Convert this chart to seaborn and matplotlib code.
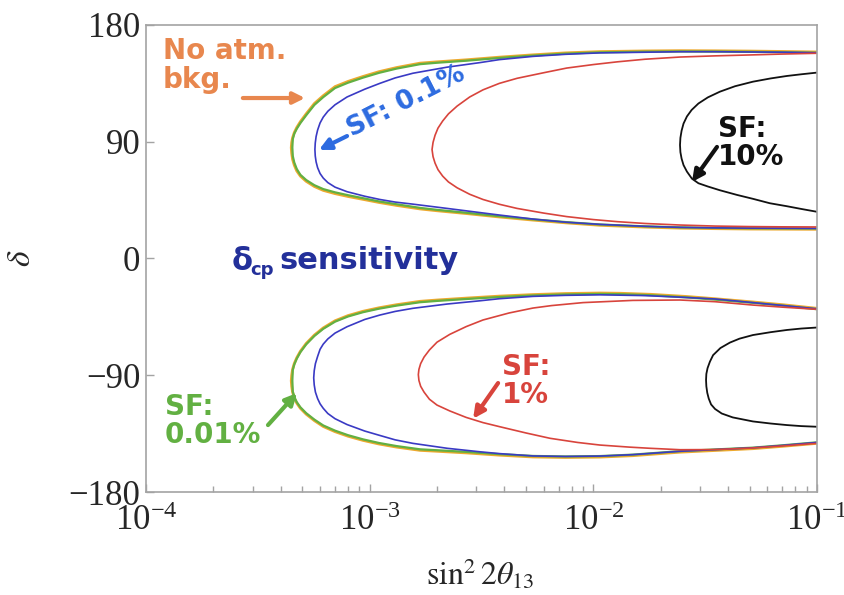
import matplotlib
matplotlib.use("Agg")
import matplotlib.pyplot as plt
from matplotlib.ticker import LogLocator, NullFormatter
import seaborn as sns

# ---- contour data: sin^2(2 theta13) vs delta (degrees) ----
# Each contour is traced from the right edge along its upper branch,
# round the tip, and back to the right edge along its lower branch.

# ===== upper band (delta > 0) =====
nobkg_up_x = [0.1, 0.07, 0.05, 0.035, 0.0244, 0.017, 0.0107, 0.0075, 0.00537, 0.0038,
              0.00272, 0.002, 0.00168, 0.00132, 0.0011, 0.000933, 0.0008, 0.0007, 0.00062,
              0.000566, 0.00052, 0.00049, 0.000472, 0.00046, 0.000452, 0.000448, 0.000446,
              0.000448, 0.000452, 0.00046, 0.000472, 0.00049, 0.00052, 0.000566, 0.00062,
              0.0007, 0.0008, 0.000933, 0.0011, 0.00132, 0.00168, 0.002, 0.00272, 0.0038,
              0.00537, 0.0075, 0.0107, 0.017, 0.0244, 0.035, 0.05, 0.1]
nobkg_up_d = [159.2, 159.6, 159.9, 160.1, 160.2, 160.0, 159.5, 158.5, 157.0, 155.2,
              153.2, 151.6, 150.6, 147.2, 144.0, 140.3, 136.5, 132.5, 125.5,
              119.5, 111.5, 105.5, 101.0, 97.0, 93.0, 89.5, 85.5,
              81.0, 76.5, 72.0, 67.5, 63.5, 59.5, 55.5, 52.5,
              50.0, 47.8, 45.6, 43.2, 40.9, 38.2, 36.8, 34.6, 32.0,
              29.6, 27.5, 25.6, 24.2, 23.4, 23.0, 22.7, 22.5]

sf001_up_x = [0.1, 0.07, 0.05, 0.035, 0.0244, 0.017, 0.0107, 0.0075, 0.00537, 0.0038,
              0.00272, 0.002, 0.00168, 0.00132, 0.0011, 0.000933, 0.0008, 0.0007, 0.00062,
              0.000566, 0.00052, 0.00049, 0.000472, 0.00046, 0.000453, 0.000451,
              0.000453, 0.00046, 0.000472, 0.00049, 0.00052, 0.000566, 0.00062,
              0.0007, 0.0008, 0.000933, 0.0011, 0.00132, 0.00168, 0.002, 0.00272, 0.0038,
              0.00537, 0.0075, 0.0107, 0.017, 0.0244, 0.035, 0.05, 0.1]
sf001_up_d = [158.6, 159.0, 159.3, 159.5, 159.6, 159.4, 158.9, 157.9, 156.4, 154.6,
              152.5, 150.9, 149.8, 146.4, 143.1, 139.4, 135.5, 131.4, 124.4,
              118.4, 110.4, 104.4, 100.0, 96.2, 92.0, 85.5,
              79.0, 74.0, 69.0, 64.5, 60.5, 56.5, 53.5,
              51.0, 48.8, 46.5, 44.0, 41.8, 39.0, 37.5, 35.2, 32.6,
              30.2, 28.1, 26.2, 24.8, 24.0, 23.6, 23.3, 23.1]

sf01_up_x = [0.1, 0.07, 0.05, 0.035, 0.0244, 0.017, 0.0107, 0.0075, 0.00537, 0.0038,
             0.00311, 0.00222, 0.00156, 0.0013, 0.00111, 0.00095, 0.000792, 0.0007, 0.00065,
             0.00062, 0.0006, 0.000585, 0.000576, 0.000571, 0.000569,
             0.000571, 0.000576, 0.000585, 0.0006, 0.00062, 0.00065, 0.0007, 0.000792,
             0.00095, 0.00111, 0.0013, 0.00156, 0.00222, 0.00311, 0.0038, 0.00537, 0.0075,
             0.0107, 0.017, 0.0244, 0.035, 0.05, 0.1]
sf01_up_d = [158.6, 159.0, 159.2, 159.4, 159.4, 159.0, 158.5, 157.4, 155.8, 153.3,
             151.0, 147.5, 142.8, 139.2, 135.0, 130.5, 124.5, 118.5, 113.5,
             109.0, 104.5, 99.0, 94.0, 89.0, 84.0,
             79.0, 74.5, 70.0, 65.5, 62.0, 58.5, 55.0, 51.5,
             48.0, 45.5, 43.5, 41.9, 38.6, 35.4, 33.5, 30.4, 28.0,
             26.3, 24.8, 24.0, 23.6, 23.4, 23.2]

sf1_up_x = [0.1, 0.07, 0.05, 0.035, 0.0244, 0.017, 0.0128, 0.01, 0.0076, 0.006,
            0.00456, 0.0038, 0.00321, 0.0028, 0.00246, 0.00225, 0.00212, 0.00202, 0.00196,
            0.00192, 0.0019, 0.00192, 0.00196, 0.00202, 0.00212, 0.00225, 0.00246, 0.0028,
            0.00321, 0.0038, 0.00456, 0.006, 0.0076, 0.01, 0.0128, 0.017, 0.0244, 0.035,
            0.05, 0.07, 0.1]
sf1_up_d = [158.2, 157.6, 156.9, 156.2, 155.3, 153.6, 151.6, 149.5, 146.8, 143.2,
            138.9, 135.0, 130.0, 124.5, 117.5, 111.5, 106.0, 100.5, 95.0,
            89.5, 84.0, 78.5, 73.5, 68.5, 63.5, 59.0, 54.5, 49.5,
            45.5, 41.8, 38.6, 35.0, 32.3, 30.0, 28.4, 27.0, 25.8, 25.0,
            24.6, 24.4, 24.3]

sf10_up_x = [0.1, 0.085, 0.0733, 0.062, 0.0517, 0.043, 0.0368, 0.0325, 0.0295, 0.0275,
             0.0262, 0.0253, 0.0248, 0.0245, 0.0244, 0.0245, 0.0248, 0.0253, 0.0262,
             0.0276, 0.0295, 0.0325, 0.0368, 0.0439, 0.0517, 0.0615, 0.0733, 0.085, 0.1]
sf10_up_d = [143.3, 142.0, 140.7, 138.8, 136.3, 132.8, 128.6, 124.2, 119.5, 114.5,
             109.5, 104.0, 98.5, 93.0, 87.5, 82.0, 77.0, 72.0, 67.0,
             61.5, 58.0, 55.5, 52.6, 49.0, 46.0, 42.6, 40.3, 38.2, 36.0]

# ===== lower band (delta < 0) =====
nobkg_lo_x = [0.1, 0.07, 0.0517, 0.035, 0.0262, 0.018, 0.0132, 0.0107, 0.0075, 0.00537,
              0.0038, 0.00272, 0.002, 0.00168, 0.00132, 0.0011, 0.000933, 0.0008, 0.0007,
              0.00062, 0.000566, 0.00052, 0.00049, 0.000472, 0.00046, 0.000452, 0.000448,
              0.000446, 0.000448, 0.000452, 0.00046, 0.000472, 0.00049, 0.00052, 0.000566,
              0.00062, 0.0007, 0.0008, 0.000933, 0.0011, 0.00132, 0.00168, 0.002, 0.00272,
              0.0038, 0.00537, 0.0075, 0.0107, 0.015, 0.0244, 0.035, 0.0517, 0.07, 0.1]
nobkg_lo_d = [-38.4, -35.6, -33.5, -31.0, -29.3, -27.6, -26.8, -26.6, -27.0, -27.8,
              -29.0, -30.5, -32.0, -33.0, -35.6, -38.0, -40.7, -44.0, -48.0,
              -53.5, -59.0, -65.5, -71.5, -76.5, -81.0, -85.5, -90.0,
              -94.2, -98.5, -103.0, -107.5, -111.5, -115.5, -120.0, -125.0,
              -129.5, -133.5, -137.0, -140.2, -143.0, -145.4, -147.9, -148.6, -149.9,
              -151.6, -153.0, -153.4, -153.1, -152.0, -149.3, -148.0, -146.6, -144.8, -142.5]

sf001_lo_x = [0.1, 0.07, 0.0517, 0.035, 0.0262, 0.018, 0.0132, 0.0107, 0.0075, 0.00537,
              0.0038, 0.00272, 0.002, 0.00168, 0.00132, 0.0011, 0.000933, 0.0008, 0.0007,
              0.00062, 0.000566, 0.00052, 0.00049, 0.000472, 0.00046, 0.000453,
              0.000451, 0.000453, 0.00046, 0.000472, 0.00049, 0.00052, 0.000566,
              0.00062, 0.0007, 0.0008, 0.000933, 0.0011, 0.00132, 0.00168, 0.002, 0.00272,
              0.0038, 0.00537, 0.0075, 0.0107, 0.015, 0.0244, 0.035, 0.0517, 0.07, 0.1]
sf001_lo_d = [-39.1, -36.3, -34.2, -31.7, -30.0, -28.3, -27.5, -27.3, -27.7, -28.5,
              -29.7, -31.2, -32.7, -33.7, -36.3, -38.7, -41.4, -44.7, -48.7,
              -54.2, -59.7, -66.2, -72.2, -77.2, -81.7, -86.0,
              -94.2, -102.5, -106.7, -110.7, -114.7, -119.2, -124.2,
              -128.7, -132.7, -136.2, -139.4, -142.2, -144.6, -147.1, -147.8, -149.1,
              -150.8, -152.2, -152.6, -152.3, -151.2, -148.5, -147.2, -145.8, -144.0, -141.7]

sf01_lo_x = [0.1, 0.07, 0.0517, 0.035, 0.0244, 0.017, 0.0107, 0.0075, 0.00537, 0.0038,
             0.00311, 0.00222, 0.00156, 0.0013, 0.00111, 0.00095, 0.000792, 0.0007, 0.00065,
             0.00062, 0.0006, 0.000585, 0.000572, 0.000565, 0.000562,
             0.000565, 0.000572, 0.000585, 0.0006, 0.00062, 0.00065, 0.0007, 0.000792,
             0.00095, 0.00111, 0.0013, 0.00156, 0.00222, 0.00311, 0.0038, 0.00537, 0.0075,
             0.0107, 0.015, 0.0244, 0.035, 0.0517, 0.07, 0.1]
sf01_lo_d = [-38.8, -36.2, -34.0, -31.2, -29.8, -28.6, -28.0, -28.4, -29.2, -31.0,
             -32.6, -35.1, -38.4, -40.8, -43.6, -47.0, -52.6, -57.5, -62.0,
             -66.0, -70.0, -75.5, -81.0, -86.5, -92.0,
             -97.5, -103.0, -108.0, -112.0, -115.5, -119.5, -123.5, -128.0,
             -133.0, -136.4, -139.8, -142.5, -146.3, -149.0, -150.4, -152.2, -152.6,
             -152.3, -151.2, -148.6, -147.3, -145.9, -144.1, -141.8]

sf1_lo_x = [0.1, 0.07, 0.0517, 0.035, 0.0244, 0.015, 0.00899, 0.0065, 0.00537, 0.0042,
            0.00321, 0.0027, 0.00228, 0.002, 0.00185, 0.00175, 0.00169, 0.00166, 0.00165,
            0.00166, 0.00169, 0.00175, 0.00185, 0.002, 0.00228, 0.0027, 0.00321, 0.00382,
            0.005, 0.0064, 0.0085, 0.0107, 0.0145, 0.0179, 0.0244, 0.035, 0.05, 0.07, 0.1]
sf1_lo_d = [-39.2, -37.5, -35.9, -33.3, -32.0, -32.3, -34.0, -36.3, -38.2, -42.0,
            -47.4, -52.5, -58.5, -64.5, -70.5, -76.0, -81.0, -85.5, -89.5,
            -94.0, -98.5, -103.0, -108.5, -113.0, -117.5, -122.5, -126.5, -129.7,
            -134.5, -138.6, -141.8, -143.8, -145.4, -146.3, -147.4, -147.3, -146.2, -144.5, -142.5]

sf10_lo_x = [0.1, 0.085, 0.0733, 0.062, 0.0517, 0.045, 0.0408, 0.037, 0.0343, 0.0332,
             0.0324, 0.032, 0.0319, 0.032, 0.0323, 0.0328, 0.0336, 0.035, 0.0375, 0.042,
             0.0517, 0.062, 0.0733, 0.085, 0.1]
sf10_lo_d = [-53.2, -54.0, -55.1, -56.8, -59.0, -61.8, -64.8, -69.0, -74.5, -79.5,
             -84.5, -89.0, -93.7, -98.5, -103.5, -108.0, -112.5, -116.0, -119.5, -122.5,
             -125.6, -127.2, -128.4, -129.2, -129.7]

x_ticks = [1e-4, 1e-3, 1e-2, 1e-1]
y_ticks = [-180, -90, 0, 90, 180]

# ---- style ----
sns.set_style("white")
plt.rcParams["font.family"] = ["Liberation Serif", "DejaVu Serif"]
plt.rcParams["mathtext.fontset"] = "stix"

C_NOBKG_LINE = "#EDA92E"
C_NOBKG_TEXT = "#E8874E"
C_GREEN = "#62B042"
C_BLUE_LINE = "#3A3AC4"
C_BLUE_TEXT = "#2D6BE0"
C_RED = "#D8443C"
C_BLACK = "#111111"
C_NAVY = "#23309A"
C_FRAME = "#A3A3A3"

fig = plt.figure(figsize=(8.45, 5.95), dpi=100)
ax = fig.add_axes([0.1728, 0.1731, 0.7941, 0.7849])
ax.set_xscale("log")


def contour(xs, ds, color, lw):
    sns.lineplot(x=xs, y=ds, sort=False, estimator=None, color=color,
                 linewidth=lw, ax=ax, legend=False)


for xs, ds in [(nobkg_up_x, nobkg_up_d), (nobkg_lo_x, nobkg_lo_d)]:
    contour(xs, ds, C_NOBKG_LINE, 2.0)
for xs, ds in [(sf001_up_x, sf001_up_d), (sf001_lo_x, sf001_lo_d)]:
    contour(xs, ds, C_GREEN, 1.6)
for xs, ds in [(sf01_up_x, sf01_up_d), (sf01_lo_x, sf01_lo_d)]:
    contour(xs, ds, C_BLUE_LINE, 1.2)
for xs, ds in [(sf1_up_x, sf1_up_d), (sf1_lo_x, sf1_lo_d)]:
    contour(xs, ds, C_RED, 1.2)
for xs, ds in [(sf10_up_x, sf10_up_d), (sf10_lo_x, sf10_lo_d)]:
    contour(xs, ds, C_BLACK, 1.3)

# ---- axes ----
ax.set_xlim(1e-4, 1e-1)
ax.set_ylim(-180, 180)
ax.set_xticks(x_ticks)
ax.xaxis.set_minor_locator(LogLocator(base=10, subs=[2, 3, 4, 5, 6, 7, 8, 9]))
ax.xaxis.set_minor_formatter(NullFormatter())
ax.set_yticks(y_ticks)
ax.set_yticklabels([str(v).replace("-", "\u2212") for v in y_ticks])
for s in ax.spines.values():
    s.set_color(C_FRAME)
    s.set_linewidth(1.2)
ax.tick_params(axis="both", which="both", direction="in", color=C_FRAME,
               top=False, right=False, bottom=True, left=True)
ax.tick_params(axis="x", which="major", length=6, width=1, labelsize=25, pad=9)
ax.tick_params(axis="x", which="minor", length=4, width=1)
ax.tick_params(axis="y", which="major", length=6, width=1, labelsize=25, pad=4)
ax.tick_params(axis="y", which="minor", left=False)

ax.set_xlabel(r"$\sin^2 2\theta_{13}$", fontsize=23)
ax.xaxis.set_label_coords(0.498, -0.14)
ax.set_ylabel(r"$\delta$", fontsize=24)
ax.yaxis.set_label_coords(-0.162, 0.5)

# ---- annotations ----
sans = ["DejaVu Sans"]
arrow = dict(arrowstyle="-|>", lw=3.0, mutation_scale=17, shrinkA=0, shrinkB=0)

ax.text(1.19e-4, 171, "No atm.\nbkg.", color=C_NOBKG_TEXT, fontsize=20,
        fontweight="bold", family=sans, ha="left", va="top", linespacing=1.05)
ax.annotate("", xy=(5.14e-4, 123.7), xytext=(2.71e-4, 123.7),
            arrowprops=dict(arrow, color=C_NOBKG_TEXT))

ax.text(8.34e-4, 93.7, "SF: 0.1%", color=C_BLUE_TEXT, fontsize=19,
        fontweight="bold", family=sans, ha="left", va="baseline",
        rotation=27, rotation_mode="anchor")
ax.annotate("", xy=(5.93e-4, 83.7), xytext=(7.92e-4, 94.4),
            arrowprops=dict(arrow, color=C_BLUE_TEXT))

ax.text(3.61e-2, 111, "SF:\n10%", color=C_BLACK, fontsize=20,
        fontweight="bold", family=sans, ha="left", va="top", linespacing=1.0)
ax.annotate("", xy=(2.76e-2, 59.0), xytext=(3.57e-2, 86.0),
            arrowprops=dict(arrow, color=C_BLACK))

ax.text(3.90e-3, -72.9, "SF:\n1%", color=C_RED, fontsize=20,
        fontweight="bold", family=sans, ha="left", va="top", linespacing=1.0)
ax.annotate("", xy=(2.90e-3, -123.5), xytext=(3.75e-3, -96.0),
            arrowprops=dict(arrow, color=C_RED))

ax.text(1.216e-4, -103.7, "SF:\n0.01%", color=C_GREEN, fontsize=20,
        fontweight="bold", family=sans, ha="left", va="top", linespacing=1.0)
ax.annotate("", xy=(4.73e-4, -103.7), xytext=(3.51e-4, -128.4),
            arrowprops=dict(arrow, color=C_GREEN))

ax.text(2.42e-4, -8.9, "\u03b4", color=C_NAVY, fontsize=22, fontweight="bold",
        family=sans, ha="left", va="baseline")
ax.text(2.92e-4, -12.7, "cp", color=C_NAVY, fontsize=13, fontweight="bold",
        family=sans, ha="left", va="baseline")
ax.text(3.93e-4, -8.1, "sensitivity", color=C_NAVY, fontsize=22, fontweight="bold",
        family=sans, ha="left", va="baseline")

fig.savefig("out.png", dpi=100)
